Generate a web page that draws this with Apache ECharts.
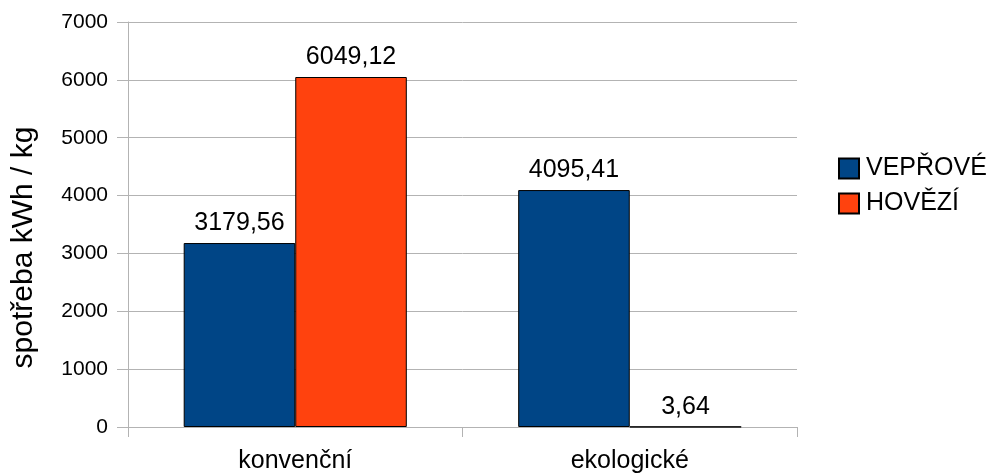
<!DOCTYPE html>
<html>
<head>
<meta charset="utf-8">
<script src="https://cdn.jsdelivr.net/npm/echarts@6/dist/echarts.min.js"></script>
<style>
  html, body { margin: 0; padding: 0; background: #fff; }
  #chart { width: 993px; height: 476px; }
</style>
</head>
<body>
<div id="chart"></div>
<script>
const categories = ['konvenční', 'ekologické'];
const seriesNames = ['VEPŘOVÉ', 'HOVĚZÍ'];
const veprove = [3179.56, 4095.41];
const hovezi = [6049.12, 3.64];
const yTicks = { min: 0, max: 7000, interval: 1000 };
const colors = ['#004586', '#ff420e'];

const myEcharts = echarts.init(document.getElementById('chart'));

// label s desetinnou čárkou
const fmt = p => String(p.value).replace('.', ',');

const makeSeries = (name, data, color) => ({
    name: name,
    type: 'bar',
    data: data,
    barGap: '0%',
    barCategoryGap: '33.3%',
    itemStyle: {
        color: color,
        borderColor: '#000',
        borderWidth: 1
    },
    label: {
        show: true,
        position: 'top',
        distance: 7,
        color: '#000',
        fontSize: 25,
        fontFamily: 'Liberation Sans',
        formatter: fmt
    }
});

const option = {
    animation: false,
    textStyle: { fontFamily: 'Liberation Sans' },
    grid: {
        left: 128,
        right: 196,
        top: 22,
        bottom: 49
    },
    legend: {
        orient: 'vertical',
        left: 833,
        top: 151,
        icon: 'rect',
        itemWidth: 20,
        itemHeight: 20,
        itemGap: 10,
        textStyle: {
            fontSize: 25,
            color: '#000',
            padding: [0, 0, 0, 2],
            fontFamily: 'Liberation Sans'
        },
        data: seriesNames
    },
    xAxis: {
        type: 'category',
        data: categories,
        axisLine: { show: true, lineStyle: { color: '#b3b3b3' } },
        axisTick: { show: true, length: 10, lineStyle: { color: '#b3b3b3' } },
        axisLabel: {
            fontSize: 25,
            color: '#000',
            margin: 22
        }
    },
    yAxis: {
        type: 'value',
        min: yTicks.min,
        max: yTicks.max,
        interval: yTicks.interval,
        name: 'spotřeba kWh / kg',
        nameLocation: 'middle',
        nameGap: 89,
        nameTextStyle: {
            fontSize: 30,
            color: '#000',
            padding: [0, 46, 0, 0]
        },
        axisLine: { show: true, lineStyle: { color: '#b3b3b3' } },
        axisTick: { show: true, length: 11, lineStyle: { color: '#b3b3b3' } },
        splitLine: { show: true, lineStyle: { color: '#b3b3b3' } },
        axisLabel: {
            fontSize: 21,
            color: '#000',
            margin: 20,
            formatter: v => String(v)
        }
    },
    series: [
        makeSeries(seriesNames[0], veprove, colors[0]),
        makeSeries(seriesNames[1], hovezi, colors[1])
    ]
};

myEcharts.setOption(option);
</script>
</body>
</html>
